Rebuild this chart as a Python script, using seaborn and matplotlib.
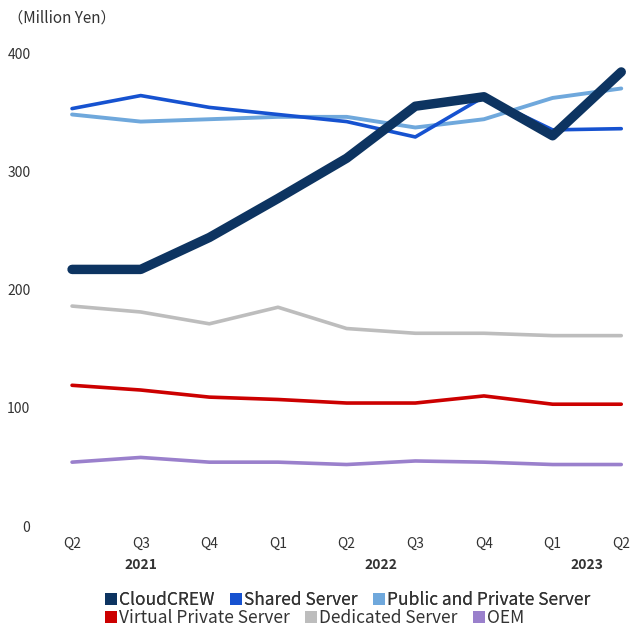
import matplotlib
matplotlib.use("Agg")
import matplotlib.pyplot as plt
import matplotlib.transforms as mtransforms
from matplotlib.patches import Patch
import seaborn as sns
import pandas as pd

quarters = ["Q2", "Q3", "Q4", "Q1", "Q2", "Q3", "Q4", "Q1", "Q2"]
years = ["2021", "2022", "2023"]
year_pos = [1, 4.5, 7.5]

cloudcrew = [217, 217, 244, 277, 311, 355, 363, 330, 384]
shared = [353, 364, 354, 348, 342, 329, 363, 335, 336]
public_private = [348, 342, 344, 346, 346, 337, 344, 362, 370]
virtual_private = [119, 115, 109, 107, 104, 104, 110, 103, 103]
dedicated = [186, 181, 171, 185, 167, 163, 163, 161, 161]
oem = [54, 58, 54, 54, 52, 55, 54, 52, 52]

names = ["CloudCREW", "Shared Server", "Public and Private Server",
         "Virtual Private Server", "Dedicated Server", "OEM"]
series = [cloudcrew, shared, public_private, virtual_private, dedicated, oem]
colors = ["#0d3461", "#1652d0", "#6fa8dc", "#cc0000", "#bdbdbd", "#9a80cc"]
widths = [6.8, 2.6, 2.8, 2.6, 2.6, 2.6]

sns.set_style("white")
plt.rcParams["font.family"] = ["Noto Sans CJK JP", "DejaVu Sans"]
text_color = "#333333"

fig = plt.figure(figsize=(6.32, 6.28), dpi=100)
ax = fig.add_axes([0.114, 0.1624, 0.869, 0.7532])

# draw order: thin lines first, CloudCREW last on top
order = [4, 5, 3, 2, 1, 0]
for i in order:
    df = pd.DataFrame({"x": range(len(quarters)), "y": series[i]})
    sns.lineplot(data=df, x="x", y="y", ax=ax, color=colors[i],
                 linewidth=widths[i], clip_on=False, zorder=3 if i else 4)

ax.set_xlim(0, len(quarters) - 1)
ax.set_ylim(0, 400)
ax.set_yticks([0, 100, 200, 300, 400])
ax.set_xticks(range(len(quarters)))
ax.set_xticklabels(quarters)
ax.set_xlabel("")
ax.set_ylabel("")
for s in ax.spines.values():
    s.set_visible(False)
ax.tick_params(axis="both", length=0, labelsize=10, colors=text_color)
ax.tick_params(axis="y", pad=30)
ax.tick_params(axis="x", pad=8)

trans = mtransforms.blended_transform_factory(ax.transData, ax.transAxes)
for yr, xp in zip(years, year_pos):
    ax.text(xp, -0.082, yr, transform=trans, ha="center", va="center",
            fontsize=10, fontweight="bold", color=text_color)

fig.text(0.012, 0.971, "（Million Yen）", ha="left", va="center",
         fontsize=11, color=text_color)

def make_legend(idx, y):
    handles = [Patch(facecolor=colors[i], edgecolor="none") for i in idx]
    labels = [names[i] for i in idx]
    leg = fig.legend(handles, labels, loc="center left", bbox_to_anchor=(0.166, y),
                     ncol=len(idx), frameon=False, fontsize=12.5,
                     handlelength=0.7, handleheight=0.7, handletextpad=0.1,
                     columnspacing=0.9, borderpad=0, borderaxespad=0,
                     labelcolor=text_color)
    return leg

l1 = make_legend([0, 1, 2], 0.044)
fig.add_artist(l1)
l2 = make_legend([3, 4, 5], 0.016)

fig.savefig("out.png", dpi=100)
